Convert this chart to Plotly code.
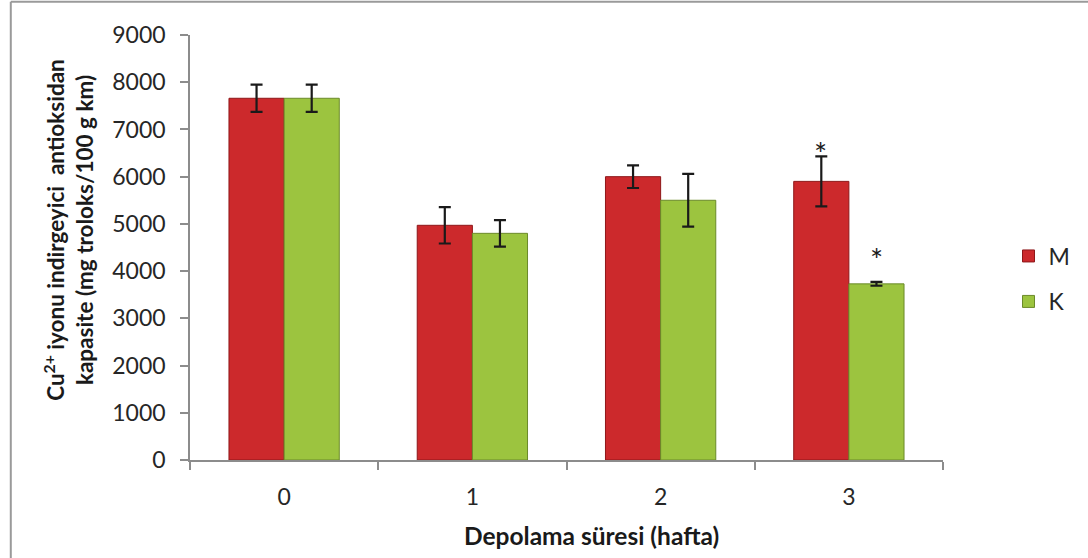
import plotly.graph_objects as go

# Storage time (weeks) and Cu2+ reducing antioxidant capacity
weeks = ["0", "1", "2", "3"]
m_values = [7660, 4970, 6000, 5900]
m_errors = [290, 385, 240, 530]
k_values = [7660, 4800, 5500, 3730]
k_errors = [290, 280, 560, 40]
y_ticks = [0, 1000, 2000, 3000, 4000, 5000, 6000, 7000, 8000, 9000]

RED = "#CC292C"
RED_EDGE = "#8E1719"
GREEN = "#9CC43F"
GREEN_EDGE = "#6B8A2A"
FONT = "Lato"
TEXT = "#262626"

fig = go.Figure()

fig.add_trace(go.Bar(
    x=weeks, y=m_values, name="M", showlegend=True,
    marker=dict(color=RED, line=dict(color=RED_EDGE, width=1)),
    error_y=dict(type="data", array=m_errors, color="#1a1a1a", thickness=2.2, width=6),
    legend="legend",
))
fig.add_trace(go.Bar(
    x=weeks, y=k_values, name="K", showlegend=True,
    marker=dict(color=GREEN, line=dict(color=GREEN_EDGE, width=1)),
    error_y=dict(type="data", array=k_errors, color="#1a1a1a", thickness=2.2, width=6),
    legend="legend2",
))

# significance marks above week 3
fig.add_annotation(x=weeks[3], y=m_values[3] + m_errors[3], xref="x", yref="y",
                   text="*", showarrow=False, xshift=-28, yshift=-18, yanchor="bottom",
                   font=dict(family=FONT, size=31, color="#1a1a1a"))
fig.add_annotation(x=weeks[3], y=k_values[3] + k_errors[3], xref="x", yref="y",
                   text="*", showarrow=False, xshift=28, yshift=2, yanchor="bottom",
                   font=dict(family=FONT, size=31, color="#1a1a1a"))

# axis titles
fig.add_annotation(
    xref="paper", yref="paper", x=-0.161, y=0.541,
    text="<b>Cu<sup>2+</sup> iyonu indirgeyici  antioksidan<br>kapasite (mg troloks/100 g km)</b>",
    textangle=-90, showarrow=False, xanchor="center", yanchor="middle",
    font=dict(family=FONT, size=22.5, color="#1a1a1a"),
)
fig.add_annotation(
    xref="paper", yref="paper", x=0.533, y=-0.178,
    text="<b>Depolama süresi (hafta)</b>", showarrow=False,
    xanchor="center", yanchor="middle",
    font=dict(family=FONT, size=24.5, color="#1a1a1a"),
)

# outer frame (top and left edges)
fig.add_shape(type="line", xref="paper", yref="paper",
              x0=-0.238, x1=1.2, y0=1.078, y1=1.078,
              line=dict(color="#9a9a9a", width=2))
fig.add_shape(type="line", xref="paper", yref="paper",
              x0=-0.238, x1=-0.238, y0=1.078, y1=-0.3,
              line=dict(color="#9a9a9a", width=2))

fig.update_layout(
    width=1088, height=558,
    margin=dict(l=190, r=133, t=35, b=98),
    paper_bgcolor="white", plot_bgcolor="white",
    showlegend=True,
    barmode="group", bargap=0.414, bargroupgap=0,
    font=dict(family=FONT, size=23, color=TEXT),
    legend=dict(x=1.087, y=0.48, xanchor="left", yanchor="middle",
                font=dict(family=FONT, size=23, color=TEXT),
                itemwidth=30, bgcolor="rgba(0,0,0,0)"),
    legend2=dict(x=1.087, y=0.373, xanchor="left", yanchor="middle",
                 font=dict(family=FONT, size=23, color=TEXT),
                 itemwidth=30, bgcolor="rgba(0,0,0,0)"),
    xaxis=dict(
        type="category", range=[-0.5, 3.5],
        showline=True, linecolor="#8c8c8c", linewidth=1.5,
        ticks="outside", tickson="boundaries", ticklen=8, tickcolor="#8c8c8c",
        tickwidth=1.5, ticklabelstandoff=16, showgrid=False, zeroline=False,
        tickfont=dict(family=FONT, size=23, color=TEXT),
    ),
    yaxis=dict(
        range=[0, 9000], tickvals=y_ticks,
        showline=True, linecolor="#8c8c8c", linewidth=1.5,
        ticks="outside", ticklen=8, tickcolor="#8c8c8c", tickwidth=1.5,
        ticklabelstandoff=10, showgrid=False, zeroline=False,
        tickfont=dict(family=FONT, size=23, color=TEXT),
    ),
)

fig.write_html("out.html")
